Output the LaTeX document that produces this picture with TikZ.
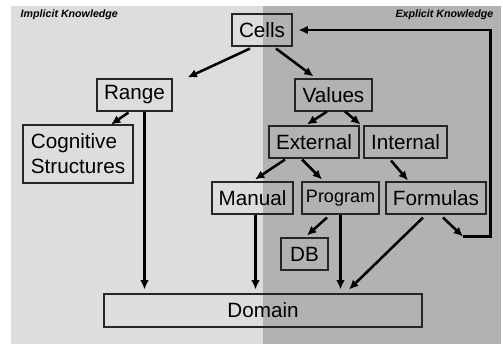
\documentclass[tikz,border=0pt]{standalone}
\usepackage{fontspec}
\setmainfont{Liberation Sans}
\usetikzlibrary{calc,arrows.meta}

\definecolor{implicitbg}{RGB}{221,221,221}
\definecolor{explicitbg}{RGB}{178,178,178}

\tikzset{
	box/.style={draw=black!85, line width=0.8pt, inner sep=0pt, minimum height=24pt,
		font=\fontsize{15.5}{18.75}\selectfont},
	side/.style={font=\fontsize{8}{9}\selectfont\bfseries\itshape},
	arr/.style={-{Latex[length=7pt,width=6.5pt]}, line width=1.9pt},
}

\begin{document}
\begin{tikzpicture}[x=0.75pt, y=-0.75pt]

	\useasboundingbox (0,0) rectangle (503,344);
	\fill[implicitbg] (11,6) rectangle (263,344);
	\fill[explicitbg] (263,6) rectangle (501,344);

	\node[side, anchor=west] (implicit) at (16,15) {Implicit Knowledge};
	\node[side, anchor=east] (explicit) at (498,15) {Explicit Knowledge};

	\node[box, minimum width=45pt] (cells) at (262,30) {Cells};
	\node[box, minimum width=56.25pt] (range) at (134.5,95) {Range};
	\node[box, minimum width=57.75pt] (values) at (333.5,95) {Values};
	\node[box, minimum width=82.5pt, minimum height=43.5pt, align=left] (cognitive) at (78,154) {Cognitive\\Structures};
	\node[box, minimum width=67.5pt] (external) at (314,142) {External};
	\node[box, minimum width=62.25pt] (internal) at (405.5,142) {Internal};
	\node[box, minimum width=60.75pt] (manual) at (252.5,198) {Manual};
	\node[box, minimum width=57.75pt, font=\fontsize{13.5}{16}\selectfont] (program) at (340.5,198) {Program};
	\node[box, minimum width=75pt] (formulas) at (436,198) {Formulas};
	\node[box, minimum width=35.25pt] (db) at (304.5,254) {DB};
	\node[box, minimum width=238.5pt, minimum height=24.75pt] (domain) at (263,310.5) {Domain};

	\draw[arr] ($(cells.south)+(-12,2)$) -- ($(range.north east)+(15,-1)$);
	\draw[arr] ($(cells.south)+(14,2)$) -- ($(values.north)+(-20,-2)$);
	\draw[arr] ($(range.south)+(-6,1)$) -- ($(cognitive.north)+(33,0)$);
	\draw[arr] ($(values.south)+(-6.5,0)$) -- ($(external.north)+(-7,-1)$);
	\draw[arr] ($(values.south)+(11.5,0)$) -- ($(internal.north west)+(-3,-1)$);
	\draw[arr] ($(external.south)+(-29,1)$) -- ($(manual.north)+(2.5,-2)$);
	\draw[arr] ($(external.south)+(-12,1)$) -- ($(program.north)+(-18.5,-2)$);
	\draw[arr] ($(internal.south)+(-14.5,2)$) -- ($(formulas.north)+(-28,-1)$);
	\draw[arr] ($(program.south)+(-13.5,3)$) -- ($(db.north)+(2.5,-2)$);

	% down to the domain
	\coordinate (rangefoot) at ($(range.south)+(10,0)$);
	\coordinate (manualfoot) at ($(manual.south)+(3,0)$);
	\draw[arr, shorten >=3pt] (rangefoot) -- (rangefoot |- domain.north);
	\draw[arr, shorten >=3pt] (manualfoot) -- (manualfoot |- domain.north);
	\draw[arr, shorten >=3pt] (program.south) -- (program.south |- domain.north);
	\draw[arr] ($(formulas.south)+(-13,3)$) -- ($(domain.north)+(86,-4)$);

	% back to the cells
	\coordinate (loopa) at (463,236.5);
	\coordinate (loopb) at (490.5,236.5);
	\draw[arr] ($(formulas.south)+(7,3)$) -- (loopa);
	\draw[arr] (loopa) -- (loopb) |- ($(cells.east)+(6,0)$);

\end{tikzpicture}
\end{document}
